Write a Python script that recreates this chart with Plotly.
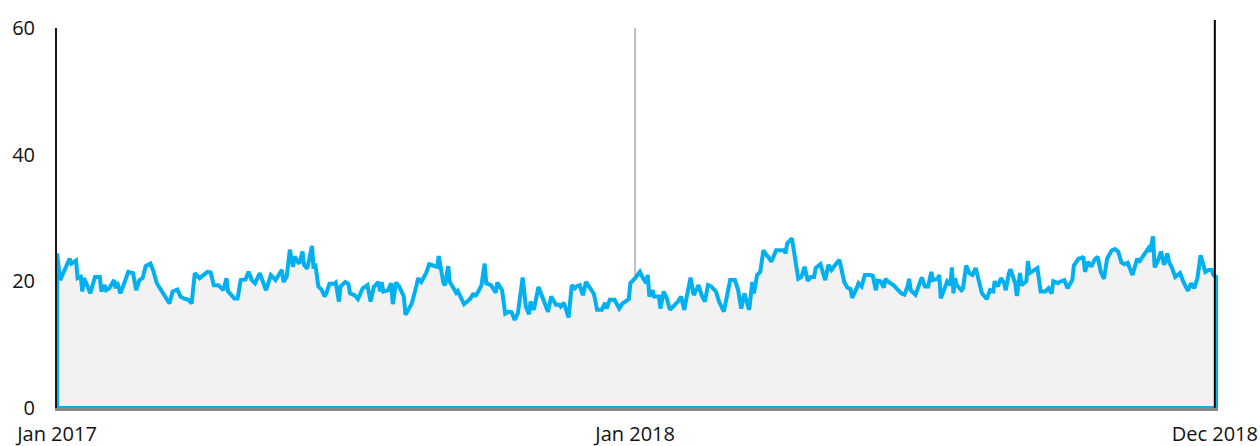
import pandas as pd
import plotly.graph_objects as go

# ---- data (day offsets from 2017-01-01, values) ----
start_date = "2017-01-01"
day_offsets = [
    0, 2, 8, 9, 12, 13, 15, 16, 17, 19, 21, 24, 27, 28, 30, 31, 33, 36, 37, 38, 40, 42, 45, 48, 50, 52, 54, 56, 59, 61,
    63, 65, 67, 69, 71, 73, 76, 78, 80, 83, 85, 87, 90, 95, 97, 99, 102, 105, 107, 108, 110, 112, 114, 116, 119, 121,
    123, 125, 128, 132, 135, 138, 142, 143, 145, 147,
    149, 150, 152, 153, 155, 156, 158, 161, 162, 163, 165, 167, 169, 170, 172, 175, 176, 178, 179, 182, 184, 185, 188,
    190, 193, 196, 198, 200, 203, 204, 205, 206, 209, 211, 212, 214, 216, 218, 219, 220, 223, 224, 227, 228, 230, 232,
    233, 235, 238, 240, 241, 243, 244, 245, 247, 248, 250, 252, 253, 257, 259, 261, 263, 264, 266, 268, 270, 271, 274,
    277, 278, 281, 283, 285, 287, 289,
    291, 294, 296, 298, 299, 301, 304, 306, 308, 310, 312, 315, 317, 318, 320, 323, 325, 327, 328, 330, 332, 334, 337,
    339, 341, 344, 346, 347, 349, 352, 355, 357, 361, 362, 365, 368, 370, 372, 373, 374, 376, 377, 380, 381, 383, 385,
    387, 390, 392, 394, 396, 398, 400, 402, 405, 407, 409, 411, 413, 416, 418, 421, 425, 428, 430, 432, 434,
    437, 439, 440, 442, 444, 446, 448, 449, 451, 454, 456, 459, 460, 461, 464, 466, 467, 468, 470, 472, 474, 476, 478,
    479, 482, 485, 487, 489, 491, 494, 497, 499, 501, 502, 505, 506, 508, 510, 513, 515, 517, 518, 520, 522, 523, 525,
    528, 531, 533, 535, 537, 538, 539, 542, 544, 546, 548, 550, 552, 553, 556, 557, 558, 560, 562, 564, 565, 566, 567,
    568, 571, 572, 574, 576, 578, 580,
    582, 584, 587, 589, 591, 592, 594, 596, 598, 599, 601, 602, 605, 606, 608, 609, 612, 613, 614, 617, 619, 621, 624,
    626, 628, 629, 632, 633, 636, 638, 641, 642, 645, 647, 648, 649, 651, 653, 655, 657, 659, 661, 663, 666, 668, 670,
    672, 674, 676, 679, 682, 683, 685, 687, 689, 690, 692, 693, 695, 697, 699, 701, 702, 704, 706, 709, 711, 714, 716,
    718, 720, 722, 725, 727, 729, 730, 733,
]
values = [
    24.4, 20.2, 23.6, 22.8, 23.3, 20.5, 20.7, 18.4, 20.5, 19.4, 18.1, 20.7, 20.7, 18.4, 19.4, 18.6, 18.9, 20.2, 18.9,
    19.9, 18.1, 19.4, 21.5, 21.3, 18.6, 20.2, 20.5, 22.4, 22.8, 21.5, 19.7, 18.9, 18.1, 17.1, 16.5, 18.4, 18.7, 17.6,
    17.3, 17.1, 16.5, 21.3, 20.5, 21.5, 21.4, 19.4, 19.4, 18.6, 20.5, 18.4, 17.8, 17.3, 17.3, 20.2, 20.3, 21.5, 20.2,
    19.7, 21.3, 18.6, 21.0, 20.2, 21.8, 19.9, 20.7, 25.0,
    22.3, 23.9, 23.1, 22.8, 24.7, 22.6, 22.0, 25.6, 22.0, 22.8, 19.2, 18.7, 17.6, 18.1, 19.6, 19.6, 19.8, 16.8, 19.2,
    19.9, 19.6, 18.1, 17.8, 17.2, 18.9, 19.4, 16.8, 19.1, 19.9, 18.4, 19.9, 18.4, 18.6, 19.7, 16.4, 19.8, 19.2, 18.1,
    17.6, 14.7, 15.9, 16.5, 19.4, 20.5, 19.9, 20.8, 21.3, 22.7, 22.4, 22.3, 24.0, 20.7, 19.7, 19.4, 22.4, 19.9, 18.9,
    18.2, 18.5, 16.4, 16.8, 17.3, 18.1, 17.6, 18.4, 19.4, 22.8, 19.7, 19.4, 18.2, 19.8, 18.6, 14.9, 15.2, 15.1, 13.9,
    15.0, 20.6, 16.0, 14.8, 16.8, 15.5, 19.1, 17.6, 16.5, 15.2, 17.6, 16.3, 16.3, 16.0, 16.6, 14.3, 19.4, 18.9, 19.2,
    19.4, 17.8, 19.9, 18.9, 18.0, 15.5, 15.5, 16.6, 15.7, 17.1, 17.1, 15.7, 16.5, 17.2, 19.7, 20.5, 21.5, 20.5, 19.7,
    21.0, 17.6, 18.6, 17.6, 17.6, 15.7, 18.4, 17.3, 15.5, 16.3, 16.8, 17.6, 15.5, 18.1, 20.6, 17.8, 19.4, 17.8, 16.8,
    19.4, 19.2, 18.4, 16.8, 15.2, 20.2, 20.2, 18.7, 15.7, 18.1,
    15.5, 19.9, 18.1, 21.0, 21.5, 24.9, 24.1, 23.9, 23.1, 24.9, 24.9, 24.9, 24.4, 26.0, 26.8, 23.9, 22.3, 20.4, 20.7,
    22.3, 20.1, 20.7, 20.7, 22.1, 22.7, 20.2, 22.6, 21.8, 22.5, 23.4, 19.9, 19.0, 18.8, 17.4, 19.0, 19.7, 19.2, 21.0,
    21.0, 20.9, 18.6, 20.1, 20.0, 19.0, 20.4, 19.9, 19.4, 18.5, 18.1, 17.9, 19.2, 20.4, 18.6, 17.9, 19.2, 20.6, 19.2,
    19.2, 21.5, 20.2, 20.4, 21.0, 17.3, 18.6, 20.0, 19.4, 22.2, 18.1, 20.5, 19.4, 18.6, 18.9, 22.5, 21.3, 21.0, 22.1,
    20.0, 18.1, 17.2, 18.6, 18.4, 20.0, 19.2, 20.5, 19.7, 18.6, 21.3, 21.9, 19.7, 17.7, 21.3, 19.4, 20.0, 23.2, 21.3,
    21.8, 22.1, 18.4, 18.4, 18.9, 18.1, 20.0, 19.7, 19.9, 20.2, 18.9, 20.2, 22.5, 23.6, 23.7, 23.9, 21.5, 23.1, 22.3,
    23.4, 23.9, 21.5, 20.4, 23.6, 24.9, 25.1, 24.7, 23.0, 22.7, 22.9, 21.0, 23.6, 23.0, 23.8, 24.4, 25.2, 24.7, 27.1,
    22.2, 23.2, 24.7, 22.6, 24.4, 23.1, 22.1, 20.7, 21.3, 20.0, 18.5, 19.7, 18.9, 20.5, 24.1, 21.5, 21.8, 21.8, 21.0,
    20.5,
]
tick_dates = ["2017-01-01", "2018-01-01", "2019-01-02"]
tick_labels = ["Jan 2017", "Jan 2018", "Dec 2018"]
y_ticks = [0, 20, 40, 60]

# ---- build closed area outline ----
base = pd.Timestamp(start_date)
dates = [base + pd.Timedelta(days=d) for d in day_offsets]
xs = [dates[0]] + dates + [dates[-1], dates[0]]
ys = [0] + values + [0, 0]

font = "Open Sans, Noto Sans, sans-serif"
fig = go.Figure()
fig.add_trace(go.Scatter(
    x=xs, y=ys, mode="lines", fill="toself", fillcolor="#f2f2f2",
    line=dict(color="#00b0f0", width=4), hoverinfo="skip", showlegend=False,
))

fig.add_shape(type="line", xref="x", yref="y", x0=tick_dates[1], x1=tick_dates[1], y0=0, y1=60,
              line=dict(color="#c0c0c0", width=2), layer="below")
fig.add_shape(type="line", xref="x", yref="paper", x0=tick_dates[2], x1=tick_dates[2], y0=0, y1=1.021,
              line=dict(color="#000000", width=2), layer="above")

fig.update_layout(
    width=1260, height=446, autosize=False,
    margin=dict(l=57, r=42, t=28, b=38, autoexpand=False),
    paper_bgcolor="white", plot_bgcolor="white",
    font=dict(family=font, size=20, color="#111111"),
    showlegend=False,
)
fig.update_xaxes(
    type="date", automargin=False,
    range=[start_date, str((base + pd.Timedelta(days=733)).date())],
    tickmode="array", tickvals=tick_dates, ticktext=tick_labels,
    showgrid=False, zeroline=False, ticks="",
    showline=True, linecolor="#888888", linewidth=3,
    ticklabelstandoff=6,
)
fig.update_yaxes(
    range=[0, 60], tickmode="array", tickvals=y_ticks, automargin=False,
    showgrid=False, zeroline=False, ticks="",
    showline=True, linecolor="#1a1a1a", linewidth=2,
    ticklabelstandoff=16,
)
fig.write_html(
    "out.html",
    config={"displayModeBar": False, "staticPlot": True},
    post_script="document.body.style.margin='0';document.body.style.padding='0';"
                "document.body.style.overflow='hidden';",
)
